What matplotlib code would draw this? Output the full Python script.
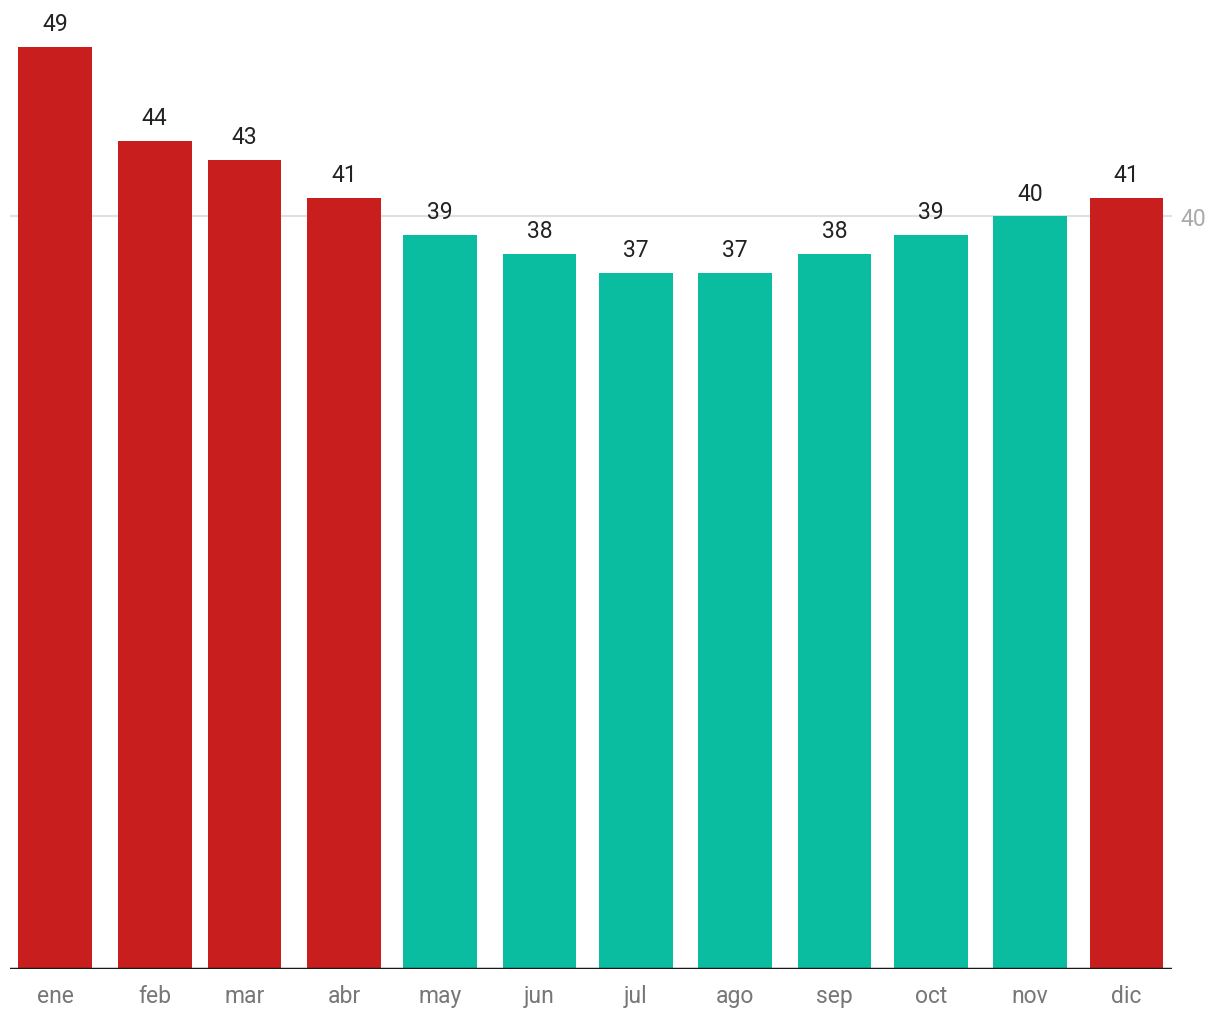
import numpy as np
import matplotlib.pyplot as plt

plt.rcParams['font.family'] = ['Roboto', 'DejaVu Sans']

months = ["ene", "feb", "mar", "abr", "may", "jun", "jul", "ago", "sep", "oct", "nov", "dic"]
values = [49, 44, 43, 41, 39, 38, 37, 37, 38, 39, 40, 41]
month_starts = np.arange('2023-01', '2024-01', dtype='datetime64[M]').astype('datetime64[D]')

red = "#C81E1E"
teal = "#0BBDA0"
colors = [red if v > 40 else teal for v in values]

# day offsets from Jan 1, so the bars follow the calendar spacing
days = (month_starts - month_starts[0]).astype(int)

fig = plt.figure(figsize=(12.2, 10.2), dpi=100)
ax = fig.add_axes([10/1220, 50/1020, 1162/1220, 970/1020])

ax.bar(days, values, width=23, color=colors, zorder=2)
for d, v in zip(days, values):
    ax.text(d, v + 0.62, str(v), ha="center", va="bottom", fontsize=16.5, color="#222222")

ax.set_xlim(-14.1, 348.2)
ax.set_ylim(0, 51.55)

ax.axhline(40, color="#e0e0e0", linewidth=1.5, zorder=1)
ax.axhline(0, color="#1a1a1a", linewidth=2.5, zorder=3)

ax.set_xticks(days)
ax.set_xticklabels(months, fontsize=16.5, color="#777777")
ax.tick_params(axis="x", length=0, pad=11)

ax.yaxis.tick_right()
ax.set_yticks([40])
ax.set_yticklabels(["40"], fontsize=16.5, color="#aaaaaa")
ax.tick_params(axis="y", length=0, pad=6)

for s in ax.spines.values():
    s.set_visible(False)

fig.savefig("out.png", dpi=100)
